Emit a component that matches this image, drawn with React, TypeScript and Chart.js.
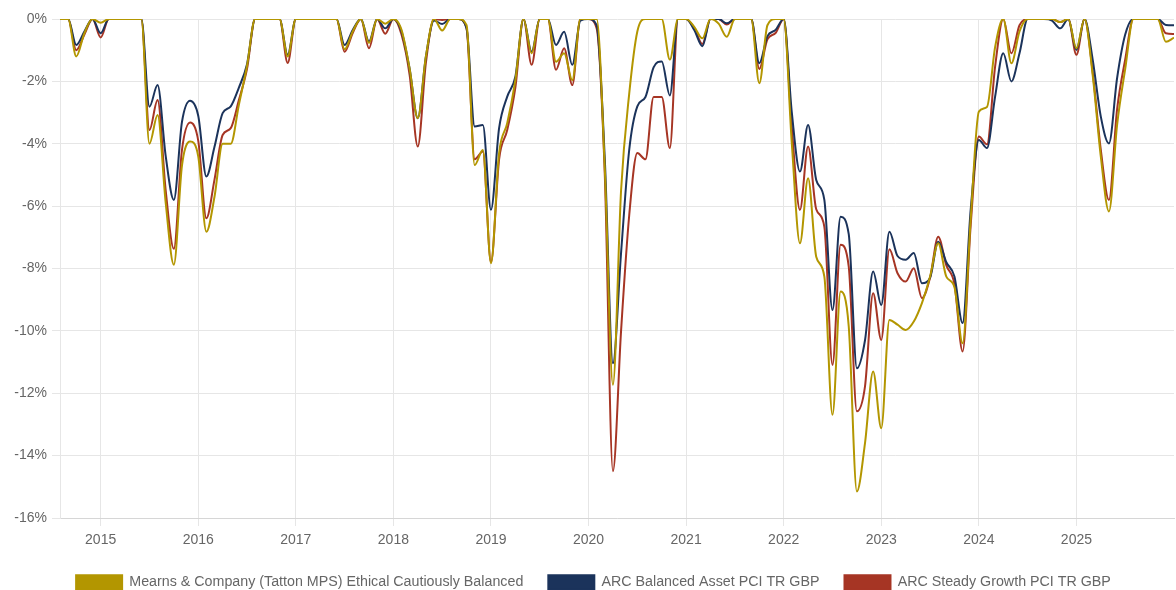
import { useEffect, useRef } from 'react';
import { Chart, registerables } from 'chart.js';

Chart.register(...registerables);

// Month-end observations, Aug 2014 .. Jan 2026
const MONTHS: string[] = [];
for (let i = 0; i < 138; i++) {
  const m = 7 + i;
  MONTHS.push(`${2014 + Math.floor(m / 12)}-${String((m % 12) + 1).padStart(2, '0')}`);
}

const SERIES_NAMES = [
  'Mearns & Company (Tatton MPS) Ethical Cautiously Balanced',
  'ARC Balanced Asset PCI TR GBP',
  'ARC Steady Growth PCI TR GBP',
];

const SERIES_COLORS = ['#b39600', '#1b335b', '#a63524'];

// Drawdown (%)
const MEARNS = [
  0, 0, -1.2, -0.45, 0,
  -0.12, 0, 0, 0, 0, 0, -4.0, -3.08, -5.9, -7.88, -4.7, -3.93,
  -4.4, -6.82, -5.7, -4.0, -4.0, -2.75, -1.5, 0, 0, 0, 0, -1.2,
  0, 0, 0, 0, 0, 0, -0.97, -0.4, 0, -0.77, 0, -0.15,
  0, -0.35, -1.6, -3.18, -1.2, 0, -0.37, 0, 0, -0.2, -4.68, -4.2,
  -7.83, -4.3, -3.34, -1.96, 0, -1.1, 0, 0, -1.37, -1.1, -1.96, 0,
  0, 0, -4.8, -11.73, -5.5, -2.4, -0.4, 0, 0, 0, -1.3, 0,
  0, -0.25, -0.62, 0, -0.15, -0.57, 0, 0, 0, -2.06, -0.2, 0,
  0, -4.0, -7.19, -5.11, -7.62, -8.26, -12.69, -8.74, -9.86, -15.15, -13.6, -11.3,
  -13.12, -9.65, -9.8, -9.97, -9.7, -9.11, -8.26, -7.19, -8.26, -8.6, -10.4, -6.4,
  -2.97, -2.82, -0.9, 0, -1.42, -0.4, 0, 0, 0, 0, -0.1, 0,
  -0.94, 0, -1.8, -4.41, -6.17, -3.4, -1.6, 0, 0, 0, 0, -0.73,
  -0.6,
];

const ARC_BALANCED = [
  0, 0, -0.83, -0.4, 0,
  -0.46, 0, 0, 0, 0, 0, -2.81, -2.12, -4.4, -5.8, -3.3, -2.62,
  -3.1, -5.05, -4.1, -3.02, -2.8, -2.2, -1.45, 0, 0, 0, 0, -1.15,
  0, 0, 0, 0, 0, 0, -0.83, -0.35, 0, -0.72, 0, -0.3,
  0, -0.4, -1.6, -3.18, -1.2, -0.05, -0.16, 0, 0, -0.3, -3.45, -3.4,
  -6.12, -3.5, -2.49, -1.85, 0, -1.05, 0, 0, -0.83, -0.41, -1.47, -0.05,
  0, -0.2, -4.5, -11.04, -7.5, -4.2, -2.8, -2.5, -1.55, -1.36, -2.45, 0,
  0, -0.35, -0.87, 0, 0, -0.14, 0, 0, 0, -1.42, -0.55, -0.35,
  0, -3.0, -4.89, -3.4, -5.16, -5.8, -9.33, -6.34, -6.9, -11.2, -10.3, -8.1,
  -9.17, -6.82, -7.6, -7.72, -7.5, -8.47, -8.3, -7.14, -7.8, -8.26, -9.75, -6.1,
  -3.88, -4.14, -2.49, -1.1, -2.0, -1.1, 0, 0, 0, -0.05, -0.3, 0,
  -0.99, 0, -1.3, -3.13, -3.99, -1.9, -0.5, 0, 0, 0, 0, -0.19,
  -0.2,
];

const ARC_STEADY = [
  0, 0, -1.0, -0.5, 0,
  -0.59, 0, 0, 0, 0, 0, -3.56, -2.6, -5.5, -7.37, -4.2, -3.32,
  -3.9, -6.39, -5.15, -3.72, -3.5, -2.6, -1.6, 0, 0, 0, 0, -1.41,
  0, 0, 0, 0, 0, 0, -1.05, -0.45, 0, -0.94, 0, -0.47,
  0, -0.5, -1.8, -4.09, -1.4, 0, -0.03, 0, 0, -0.3, -4.5, -4.25,
  -7.8, -4.5, -3.56, -2.2, 0, -1.47, 0, 0, -1.63, -0.94, -2.12, 0,
  0, -0.3, -5.0, -14.5, -10.0, -6.3, -4.3, -4.5, -2.5, -2.5, -4.14, 0,
  0, -0.3, -0.8, 0, 0, -0.18, 0, 0, 0, -1.6, -0.65, -0.45,
  0, -3.5, -6.12, -4.09, -6.1, -6.66, -11.09, -7.24, -7.94, -12.58, -11.78, -8.79,
  -10.29, -7.38, -8.15, -8.42, -7.99, -8.95, -8.3, -6.98, -7.9, -8.5, -10.66, -6.6,
  -3.77, -4.02, -1.53, 0, -1.1, -0.2, 0, 0, 0, 0, -0.1, 0,
  -1.15, 0, -1.7, -4.2, -5.8, -2.9, -1.3, 0, 0, 0, 0, -0.46,
  -0.48,
];

const YEAR_TICKS = [2015, 2016, 2017, 2018, 2019, 2020, 2021, 2022, 2023, 2024, 2025];

export default function App() {
  const ref = useRef<HTMLCanvasElement>(null);

  useEffect(() => {
    if (!ref.current) return;
    const xs = MONTHS.map((m) => {
      const [y, mo] = m.split('-').map(Number);
      return y + (mo - 1) / 12;
    });
    const pts = (vals: number[]) => vals.map((v, i) => ({ x: xs[i], y: v }));
    const seriesValues = [MEARNS, ARC_BALANCED, ARC_STEADY];

    const legendLayout = {
      id: 'legendLayout',
      afterInit(chart: any) {
        const l = chart.legend;
        if (l) {
          const orig = l.fit.bind(l);
          l.fit = function () {
            orig();
            this.height = 40;
          };
        }
      },
      afterLayout(chart: any) {
        const l = chart.legend;
        if (l) {
          l.left += 6.5;
          l.right += 6.5;
        }
      },
    };

    Chart.defaults.font.family = '"Liberation Sans", Arial, sans-serif';
    Chart.defaults.font.size = 14;
    Chart.defaults.color = '#666';

    const chart = new Chart(ref.current, {
      type: 'line',
      data: {
        datasets: seriesValues.map((vals, i) => ({
          label: SERIES_NAMES[i],
          data: pts(vals),
          borderColor: SERIES_COLORS[i],
          backgroundColor: SERIES_COLORS[i],
          borderWidth: 2,
          pointRadius: 0,
          cubicInterpolationMode: 'monotone' as const,
          fill: false,
        })),
      },
      options: {
        animation: false,
        responsive: true,
        maintainAspectRatio: false,
        layout: { padding: { top: 19, right: 2, left: 0, bottom: 0 } },
        plugins: {
          legend: {
            position: 'bottom',
            labels: {
              boxWidth: 46,
              boxHeight: 14,
              padding: 25,
              color: '#666',
              font: { size: 14.28 },
            },
          },
          tooltip: { enabled: false },
        },
        scales: {
          x: {
            type: 'linear',
            min: xs[0],
            max: xs[xs.length - 1],
            afterBuildTicks: (s: any) => {
              s.ticks = YEAR_TICKS.map((v) => ({ value: v }));
            },
            afterFit: (s: any) => {
              s.height = 32;
            },
            ticks: {
              callback: (v: any) => String(v),
              padding: 6,
              maxRotation: 0,
              autoSkip: false,
              color: '#666',
            },
            grid: { color: '#e6e6e6', tickLength: 8 },
            border: { color: '#d6d6d6' },
          },
          y: {
            min: -16,
            max: 0,
            afterFit: (s: any) => {
              s.width = 60;
            },
            ticks: {
              stepSize: 2,
              padding: 5,
              callback: (v: any) => `${v}%`,
              color: '#666',
            },
            grid: { color: '#e6e6e6', tickLength: 8 },
            border: { color: '#e6e6e6' },
          },
        },
      },
      plugins: [legendLayout],
    });
    return () => chart.destroy();
  }, []);

  return (
    <div style={{ position: 'absolute', left: 0, top: 0, width: 1176, height: 590 }}>
      <canvas ref={ref} />
    </div>
  );
}
